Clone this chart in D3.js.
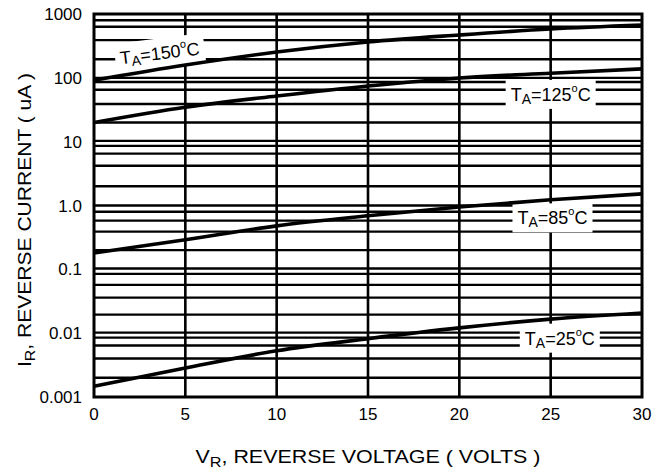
<!DOCTYPE html>
<html><head><meta charset="utf-8">
<script src="https://cdn.jsdelivr.net/npm/d3@7"></script>
<style>
body{margin:0;background:#fff}
svg text{font-family:"Liberation Sans",Arial,Helvetica,sans-serif;fill:#000}
</style>
</head><body>
<svg id="chart" width="670" height="475"></svg>
<script>
// ---------- data ----------
const voltages = [0, 5, 10, 15, 20, 25, 30];
const i150 = [92, 159, 254, 365, 469, 582, 672];
const i125 = [20, 34.7, 52, 74.6, 99.6, 118, 138];
const i85  = [0.18, 0.29, 0.48, 0.69, 0.95, 1.23, 1.52];
const i25  = [0.00147, 0.00285, 0.0053, 0.0082, 0.0121, 0.0166, 0.0207];
const seriesNames = ["150", "125", "85", "25"];

const yTickValues = [1000, 100, 10, 1, 0.1, 0.01, 0.001];
const yTickLabels = ["1000", "100", "10", "1.0", "0.1", "0.01", "0.001"];
const xTickValues = [0, 5, 10, 15, 20, 25, 30];
const xTickLabels = ["0", "5", "10", "15", "20", "25", "30"];
const hGridValues = [800, 630, 390, 195, 100, 86, 65, 39, 20, 10.3, 8.6, 6.5, 4.2, 2.0,
                     1.0, 0.8, 0.58, 0.39, 0.2, 0.103, 0.085, 0.057, 0.036, 0.0195,
                     0.0102, 0.0085, 0.0064, 0.004, 0.002];
const vGridValues = [5, 10, 15, 20, 25];

// label anchors (data coordinates)
const labelTemps = ["150", "125", "85", "25"];
const labelV     = [3.6, 25.0, 25.1, 25.5];
const labelI     = [245, 55, 0.64, 0.00835];
const labelAngle = [-7, 0, 0, 0];

// ---------- chart ----------
const svg = d3.select("#chart");
const pL = 94, pR = 642, pT = 14, pB = 397;
const x = d3.scaleLinear().domain([0, 30]).range([pL, pR]);
const y = d3.scaleLog().domain([0.001, 1000]).range([pB, pT]);

const seriesValues = [i150, i125, i85, i25];

// horizontal grid lines
svg.append("g").selectAll("line").data(hGridValues).join("line")
  .attr("x1", pL).attr("x2", pR)
  .attr("y1", d => y(d)).attr("y2", d => y(d))
  .attr("stroke", "#000").attr("stroke-width", 2.4);

// vertical grid lines
svg.append("g").selectAll("line").data(vGridValues).join("line")
  .attr("x1", d => x(d)).attr("x2", d => x(d))
  .attr("y1", pT).attr("y2", pB)
  .attr("stroke", "#000").attr("stroke-width", 2.6);

// label groups (boxes first)
const labelG = svg.append("g");
const labels = labelTemps.map((t, k) => ({t, v: labelV[k], i: labelI[k], a: labelAngle[k]}));
const lg = labelG.selectAll("g").data(labels).join("g")
  .attr("transform", d => `translate(${x(d.v)},${y(d.i)}) rotate(${d.a})`);
const boxes = lg.append("rect").attr("fill", "#fff");

// curves
const line = d3.line().x(d => x(d[0])).y(d => y(d[1])).curve(d3.curveMonotoneX);
svg.append("g").selectAll("path").data(seriesValues).join("path")
  .attr("d", vals => line(voltages.map((v, k) => [v, vals[k]])))
  .attr("fill", "none").attr("stroke", "#000").attr("stroke-width", 3.6);

// label text (drawn in a separate layer above the curves)
const textLayer = svg.append("g");
labels.forEach((d, k) => {
  const g = textLayer.append("g")
    .attr("transform", `translate(${x(d.v)},${y(d.i)}) rotate(${d.a})`);
  const tx = g.append("text").attr("text-anchor", "middle").attr("y", 6.5).attr("font-size", 18);
  tx.append("tspan").text("T");
  tx.append("tspan").attr("font-size", 14).attr("dy", 3).text("A");
  tx.append("tspan").attr("dy", -3).text("=" + d.t);
  tx.append("tspan").attr("font-size", 11).attr("dy", -9).text("o");
  tx.append("tspan").attr("dy", 9).text("C");
  const bb = tx.node().getBBox();
  d3.select(boxes.nodes()[k])
    .attr("x", bb.x - 5).attr("width", bb.width + 10)
    .attr("y", -14.5).attr("height", 29);
});

// border
svg.append("rect").attr("x", pL).attr("y", pT)
  .attr("width", pR - pL).attr("height", pB - pT)
  .attr("fill", "none").attr("stroke", "#000").attr("stroke-width", 3);

// y tick labels
svg.append("g").selectAll("text").data(yTickValues).join("text")
  .attr("x", 82).attr("y", d => y(d) + 6)
  .attr("text-anchor", "end").attr("font-size", 17)
  .text((d, k) => yTickLabels[k]);

// x tick labels
svg.append("g").selectAll("text").data(xTickValues).join("text")
  .attr("x", d => x(d)).attr("y", 420)
  .attr("text-anchor", "middle").attr("font-size", 17)
  .text((d, k) => xTickLabels[k]);

// x axis title
const xt = svg.append("text").attr("x", (pL + pR) / 2).attr("y", 463)
  .attr("text-anchor", "middle").attr("font-size", 18.5)
  .attr("textLength", 345).attr("lengthAdjust", "spacingAndGlyphs");
xt.append("tspan").text("V");
xt.append("tspan").attr("font-size", 14).attr("dy", 4).text("R");
xt.append("tspan").attr("dy", -4).text(", REVERSE VOLTAGE ( VOLTS )");

// y axis title
const yt = svg.append("text").attr("transform", "translate(31,220) rotate(-90)")
  .attr("text-anchor", "middle").attr("font-size", 18.5)
  .attr("textLength", 294).attr("lengthAdjust", "spacingAndGlyphs");
yt.append("tspan").text("I");
yt.append("tspan").attr("font-size", 14).attr("dy", 4).text("R");
yt.append("tspan").attr("dy", -4).text(", REVERSE CURRENT ( uA )");
</script>
</body></html>
